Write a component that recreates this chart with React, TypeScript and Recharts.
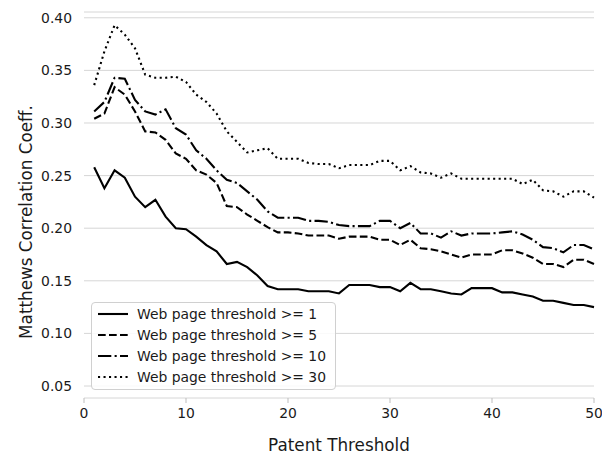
import React from 'react';
import { LineChart, Line, XAxis, YAxis, CartesianGrid, Legend } from 'recharts';

const patentThreshold = [
  1, 2, 3, 4, 5, 6, 7, 8, 9, 10, 11, 12, 13, 14, 15, 16, 17, 18, 19, 20, 21, 22, 23, 24, 25,
  26, 27, 28, 29, 30, 31, 32, 33, 34, 35, 36, 37, 38, 39, 40, 41, 42, 43, 44, 45, 46, 47, 48, 49, 50,
];

const web1 = [
  0.258, 0.238, 0.255, 0.248, 0.230, 0.220, 0.227, 0.211, 0.200, 0.199,
  0.192, 0.184, 0.178, 0.166, 0.168, 0.163, 0.155, 0.145, 0.142, 0.142,
  0.142, 0.140, 0.140, 0.140, 0.138, 0.146, 0.146, 0.146, 0.144, 0.144,
  0.140, 0.148, 0.142, 0.142, 0.140, 0.138, 0.137, 0.143, 0.143, 0.143,
  0.139, 0.139, 0.137, 0.135, 0.131, 0.131, 0.129, 0.127, 0.127, 0.125,
];

const web5 = [
  0.304, 0.309, 0.334, 0.327, 0.311, 0.292, 0.291, 0.284, 0.271, 0.266,
  0.255, 0.251, 0.243, 0.221, 0.220, 0.213, 0.207, 0.201, 0.196, 0.196,
  0.195, 0.193, 0.193, 0.193, 0.190, 0.192, 0.192, 0.192, 0.189, 0.189,
  0.184, 0.189, 0.181, 0.180, 0.178, 0.175, 0.172, 0.175, 0.175, 0.175,
  0.179, 0.179, 0.176, 0.172, 0.166, 0.166, 0.163, 0.170, 0.170, 0.166,
];

const web10 = [
  0.311, 0.320, 0.343, 0.342, 0.322, 0.311, 0.308, 0.313, 0.295, 0.289,
  0.274, 0.266, 0.255, 0.246, 0.243, 0.235, 0.227, 0.216, 0.210, 0.210,
  0.210, 0.207, 0.207, 0.206, 0.203, 0.202, 0.202, 0.202, 0.207, 0.207,
  0.200, 0.205, 0.195, 0.195, 0.191, 0.197, 0.193, 0.195, 0.195, 0.195,
  0.196, 0.197, 0.194, 0.189, 0.182, 0.181, 0.177, 0.184, 0.184, 0.180,
];

const web30 = [
  0.336, 0.368, 0.393, 0.384, 0.371, 0.346, 0.343, 0.343, 0.344, 0.339,
  0.327, 0.320, 0.309, 0.292, 0.282, 0.272, 0.274, 0.276, 0.266, 0.266,
  0.266, 0.262, 0.261, 0.261, 0.257, 0.260, 0.260, 0.260, 0.264, 0.264,
  0.255, 0.259, 0.253, 0.252, 0.248, 0.252, 0.247, 0.247, 0.247, 0.247,
  0.247, 0.247, 0.242, 0.246, 0.236, 0.235, 0.230, 0.235, 0.235, 0.229,
];

const xTicks = [0, 10, 20, 30, 40, 50];
const yTicks = [0.05, 0.1, 0.15, 0.2, 0.25, 0.3, 0.35, 0.4];

const seriesNames = [
  'Web page threshold >= 1',
  'Web page threshold >= 5',
  'Web page threshold >= 10',
  'Web page threshold >= 30',
];

const data = patentThreshold.map((p, i) => ({
  p,
  w1: web1[i],
  w5: web5[i],
  w10: web10[i],
  w30: web30[i],
}));

const FONT = 'DejaVu Sans, sans-serif';
const TEXT = '#1a1a1a';
const LW = 2.1;

const series = [
  { key: 'w1', name: seriesNames[0], dash: undefined as string | undefined },
  { key: 'w5', name: seriesNames[1], dash: '7.7 3.3' },
  { key: 'w10', name: seriesNames[2], dash: '13.3 3.3 2.1 3.3' },
  { key: 'w30', name: seriesNames[3], dash: '2.1 3.4' },
];

const renderLegend = () => (
  <div
    style={{
      position: 'relative',
      width: 245,
      height: 88,
      boxSizing: 'border-box',
      border: '1px solid #d0d0d0',
      borderRadius: 4,
      background: 'rgba(255,255,255,0.85)',
      fontFamily: FONT,
      fontSize: 13.9,
      color: TEXT,
    }}
  >
    {series.map((s, i) => (
      <div key={s.key} style={{ position: 'absolute', left: 0, top: 11 + i * 21.1 - 10, height: 20, width: 243 }}>
        <svg width={32} height={20} style={{ position: 'absolute', left: 4.5, top: 0 }}>
          <line x1={1} y1={10} x2={31} y2={10} stroke="#000" strokeWidth={LW} strokeDasharray={s.dash} />
        </svg>
        <span style={{ position: 'absolute', left: 45, top: 0, lineHeight: '20px', whiteSpace: 'nowrap' }}>
          {s.name}
        </span>
      </div>
    ))}
  </div>
);

const YLabel = () => (
  <text
    x={31.5}
    y={222}
    transform="rotate(-90 31.5 222)"
    textAnchor="middle"
    fontSize={16.8}
    fontFamily={FONT}
    fill={TEXT}
  >
    Matthews Correlation Coeff.
  </text>
);

const XLabel = () => (
  <text x={339} y={451} textAnchor="middle" fontSize={16.8} fontFamily={FONT} fill={TEXT}>
    Patent Threshold
  </text>
);

export default function App() {
  return (
    <div style={{ position: 'absolute', left: 0, top: 0, width: 602, height: 454, background: '#fff' }}>
      <LineChart width={602} height={454} data={data} margin={{ top: 12, right: 8, bottom: 0, left: 0 }}>
        <CartesianGrid vertical={false} stroke="#d6d6d6" strokeWidth={1} />
        <XAxis
          dataKey="p"
          type="number"
          domain={[0, 50]}
          ticks={xTicks}
          height={56}
          axisLine={false}
          tickLine={{ stroke: '#bdbdbd', strokeWidth: 1 }}
          tickSize={5}
          tickMargin={5}
          tick={{ fontSize: 13.9, fontFamily: FONT, fill: TEXT }}
          label={{ content: XLabel }}
        />
        <YAxis
          type="number"
          domain={[0.0386, 0.4055]}
          allowDataOverflow
          ticks={yTicks}
          width={84}
          axisLine={false}
          tickLine={false}
          tickSize={5}
          tickMargin={7}
          tickFormatter={(v: number) => v.toFixed(2)}
          tick={{ fontSize: 13.9, fontFamily: FONT, fill: TEXT }}
          label={{ content: YLabel }}
        />
        {series.map((s) => (
          <Line
            key={s.key}
            dataKey={s.key}
            name={s.name}
            type="linear"
            stroke="#000"
            strokeWidth={LW}
            strokeDasharray={s.dash}
            dot={false}
            activeDot={false}
            isAnimationActive={false}
          />
        ))}
        <Legend
          layout="horizontal"
          verticalAlign="middle"
          align="center"
          content={renderLegend}
          wrapperStyle={{ position: 'absolute', left: 91, top: 302, width: 245, height: 88 }}
        />
      </LineChart>
    </div>
  );
}
